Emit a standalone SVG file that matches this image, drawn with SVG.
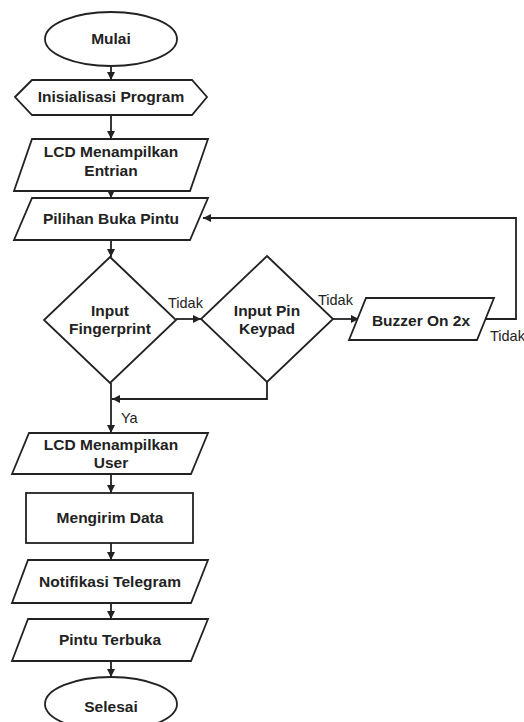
<svg xmlns="http://www.w3.org/2000/svg" width="524" height="722" viewBox="0 0 524 722">
<style>
.s{fill:#fff;stroke:#222;stroke-width:1.8}
.c{fill:none;stroke:#222;stroke-width:1.8}
.t{font-family:"Liberation Sans",Arial,sans-serif;font-weight:bold;font-size:15.5px;fill:#222;text-anchor:middle}
.l{font-family:"Liberation Sans",Arial,sans-serif;font-size:14.5px;fill:#222}
</style>
<defs>
<marker id="a" markerWidth="10" markerHeight="10" refX="8" refY="4" orient="auto" markerUnits="userSpaceOnUse">
<path d="M0,0 L8,4 L0,8 Z" fill="#222"/>
</marker>
</defs>
<rect width="524" height="722" fill="#fff"/>
<g id="connectors">
<line class="c" x1="111" y1="66" x2="111" y2="80" marker-end="url(#a)"/>
<line class="c" x1="111" y1="115" x2="111" y2="139" marker-end="url(#a)"/>
<line class="c" x1="111" y1="191" x2="111" y2="198" marker-end="url(#a)"/>
<line class="c" x1="111" y1="240" x2="111" y2="257" marker-end="url(#a)"/>
<line class="c" x1="176" y1="319" x2="201" y2="319" marker-end="url(#a)"/>
<line class="c" x1="333" y1="319" x2="359" y2="319" marker-end="url(#a)"/>
<polyline class="c" points="485,319 516,319 516,218 203,218" marker-end="url(#a)"/>
<polyline class="c" points="267,382 267,399 112,399" marker-end="url(#a)"/>
<line class="c" x1="111" y1="383" x2="111" y2="433" marker-end="url(#a)"/>
<line class="c" x1="111" y1="474" x2="111" y2="493" marker-end="url(#a)"/>
<line class="c" x1="111" y1="543" x2="111" y2="560" marker-end="url(#a)"/>
<line class="c" x1="111" y1="603" x2="111" y2="619" marker-end="url(#a)"/>
<line class="c" x1="111" y1="661" x2="111" y2="677" marker-end="url(#a)"/>
<text class="l" x="168" y="308">Tidak</text>
<text class="l" x="318" y="305">Tidak</text>
<text class="l" x="490" y="341">Tidak</text>
<text class="l" x="121" y="423">Ya</text>
</g>
<g id="mulai">
<ellipse class="s" cx="111" cy="39" rx="66" ry="27"/>
<text class="t" x="111" y="44">Mulai</text>
</g>
<g id="inisialisasi">
<polygon class="s" points="15,97 32,80 192,80 207,97 192,115 32,115"/>
<text class="t" x="111" y="102">Inisialisasi Program</text>
</g>
<g id="lcd-entrian">
<polygon class="s" points="32,139 208,139 190,191 14,191"/>
<text class="t" x="111" y="157">LCD Menampilkan</text>
<text class="t" x="111" y="176">Entrian</text>
</g>
<g id="pilihan">
<polygon class="s" points="32,198 208,198 190,240 14,240"/>
<text class="t" x="111" y="224">Pilihan Buka Pintu</text>
</g>
<g id="fingerprint">
<polygon class="s" points="110,257 176,320 110,383 44,320"/>
<text class="t" x="110" y="316">Input</text>
<text class="t" x="110" y="334">Fingerprint</text>
</g>
<g id="keypad">
<polygon class="s" points="267,256 333,319 267,382 201,319"/>
<text class="t" x="267" y="316">Input Pin</text>
<text class="t" x="267" y="334">Keypad</text>
</g>
<g id="buzzer">
<polygon class="s" points="366,298 494,298 477,340 349,340"/>
<text class="t" x="421" y="326">Buzzer On 2x</text>
</g>
<g id="lcd-user">
<polygon class="s" points="29,433 208,433 191,474 12,474"/>
<text class="t" x="111" y="450">LCD Menampilkan</text>
<text class="t" x="111" y="468">User</text>
</g>
<g id="mengirim">
<rect class="s" x="26" y="493" width="167" height="50"/>
<text class="t" x="110" y="523">Mengirim Data</text>
</g>
<g id="notifikasi">
<polygon class="s" points="28,560 208,560 191,603 12,603"/>
<text class="t" x="110" y="587">Notifikasi Telegram</text>
</g>
<g id="pintu">
<polygon class="s" points="28,619 208,619 191,661 12,661"/>
<text class="t" x="110" y="645">Pintu Terbuka</text>
</g>
<g id="selesai">
<ellipse class="s" cx="111" cy="704" rx="66" ry="27"/>
<text class="t" x="111" y="712">Selesai</text>
</g>
</svg>
